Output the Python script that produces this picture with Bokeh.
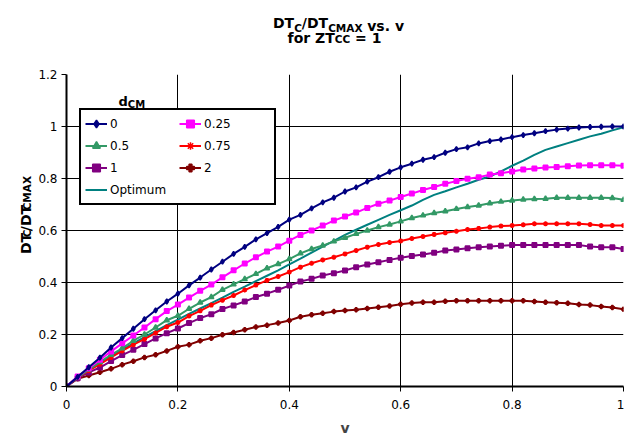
from bokeh.plotting import figure
from bokeh.models import Label, Legend, LegendItem, FixedTicker, Range1d
from bokeh.layouts import column, row
from bokeh.embed import file_html
from bokeh.resources import INLINE

# ---------------- data ----------------
v = [0.00, 0.02, 0.04, 0.06, 0.08, 0.10, 0.12, 0.14, 0.16, 0.18,
     0.20, 0.22, 0.24, 0.26, 0.28, 0.30, 0.32, 0.34, 0.36, 0.38,
     0.40, 0.42, 0.44, 0.46, 0.48, 0.50, 0.52, 0.54, 0.56, 0.58,
     0.60, 0.62, 0.64, 0.66, 0.68, 0.70, 0.72, 0.74, 0.76, 0.78,
     0.80, 0.82, 0.84, 0.86, 0.88, 0.90, 0.92, 0.94, 0.96, 0.98, 1.00]

d_0 = [0, 0.037, 0.074, 0.111, 0.150, 0.186, 0.222, 0.259, 0.293, 0.327,
       0.357, 0.389, 0.419, 0.450, 0.480, 0.510, 0.537, 0.566, 0.590, 0.614,
       0.642, 0.660, 0.685, 0.708, 0.726, 0.750, 0.766, 0.788, 0.805, 0.826,
       0.843, 0.857, 0.872, 0.882, 0.899, 0.913, 0.920, 0.935, 0.944, 0.950,
       0.959, 0.967, 0.974, 0.982, 0.988, 0.992, 0.996, 0.998, 0.999, 1.000, 1.000]

d_025 = [0, 0.038, 0.070, 0.103, 0.135, 0.166, 0.196, 0.227, 0.259, 0.290,
         0.315, 0.342, 0.368, 0.392, 0.420, 0.447, 0.473, 0.497, 0.519, 0.538,
         0.561, 0.583, 0.600, 0.619, 0.638, 0.654, 0.669, 0.687, 0.703, 0.715,
         0.729, 0.742, 0.756, 0.767, 0.780, 0.790, 0.799, 0.805, 0.815, 0.820,
         0.827, 0.835, 0.838, 0.842, 0.844, 0.847, 0.850, 0.851, 0.851, 0.851, 0.849]

d_05 = [0, 0.035, 0.065, 0.094, 0.122, 0.147, 0.176, 0.200, 0.227, 0.255,
        0.272, 0.299, 0.323, 0.344, 0.372, 0.393, 0.413, 0.433, 0.455, 0.471,
        0.490, 0.512, 0.529, 0.542, 0.558, 0.572, 0.587, 0.600, 0.613, 0.623,
        0.635, 0.648, 0.658, 0.667, 0.674, 0.683, 0.690, 0.696, 0.705, 0.711,
        0.715, 0.719, 0.721, 0.722, 0.726, 0.726, 0.726, 0.726, 0.726, 0.725, 0.718]

d_075 = [0, 0.035, 0.061, 0.086, 0.112, 0.137, 0.161, 0.182, 0.206, 0.230,
         0.246, 0.271, 0.291, 0.313, 0.332, 0.350, 0.371, 0.390, 0.408, 0.423,
         0.440, 0.459, 0.474, 0.487, 0.497, 0.510, 0.523, 0.536, 0.546, 0.554,
         0.560, 0.569, 0.577, 0.585, 0.591, 0.597, 0.604, 0.608, 0.613, 0.617,
         0.619, 0.622, 0.626, 0.626, 0.626, 0.626, 0.626, 0.623, 0.619, 0.619, 0.619]

d_1 = [0, 0.032, 0.054, 0.073, 0.098, 0.121, 0.141, 0.163, 0.185, 0.205,
       0.223, 0.244, 0.263, 0.278, 0.298, 0.312, 0.327, 0.344, 0.357, 0.372,
       0.388, 0.404, 0.414, 0.427, 0.436, 0.446, 0.459, 0.469, 0.478, 0.487,
       0.495, 0.502, 0.508, 0.514, 0.523, 0.527, 0.532, 0.536, 0.538, 0.541,
       0.544, 0.544, 0.544, 0.544, 0.544, 0.544, 0.544, 0.538, 0.536, 0.536, 0.529]

d_2 = [0, 0.030, 0.042, 0.055, 0.068, 0.084, 0.097, 0.112, 0.122, 0.137,
       0.153, 0.161, 0.176, 0.186, 0.199, 0.208, 0.218, 0.229, 0.236, 0.244,
       0.254, 0.268, 0.276, 0.282, 0.288, 0.292, 0.295, 0.300, 0.305, 0.310,
       0.316, 0.321, 0.324, 0.324, 0.328, 0.330, 0.330, 0.330, 0.330, 0.330,
       0.330, 0.330, 0.327, 0.324, 0.322, 0.320, 0.315, 0.313, 0.308, 0.304, 0.297]

optimum = [0, 0.036, 0.064, 0.090, 0.116, 0.142, 0.166, 0.190, 0.213, 0.236,
           0.257, 0.279, 0.300, 0.321, 0.342, 0.364, 0.384, 0.405, 0.426, 0.447,
           0.470, 0.492, 0.515, 0.538, 0.560, 0.583, 0.603, 0.622, 0.641, 0.660,
           0.678, 0.696, 0.718, 0.737, 0.751, 0.766, 0.780, 0.795, 0.808, 0.827,
           0.849, 0.869, 0.891, 0.910, 0.923, 0.936, 0.949, 0.962, 0.972, 0.985, 0.997]

x_ticks = [0, 0.2, 0.4, 0.6, 0.8, 1.0]
y_ticks = [0, 0.2, 0.4, 0.6, 0.8, 1.0, 1.2]

# ---------------- layout constants ----------------
W, H = 624, 440
TITLE_H = 46          # height of the title strip
YLAB_W = 34           # width of the y-label strip
FL, FT, FW, FH = 66, 74, 557, 312   # plot frame in page pixels
X0, X1, Y0, Y1 = 0.0, 1.0, 0.0, 1.2
FONT = "DejaVu Sans"

BOLD_W = {'D': 0.830, 'T': 0.682, 'C': 0.734, '/': 0.365, 'M': 0.995, 'A': 0.774,
          'X': 0.757, ' ': 0.348, 'v': 0.652, 's': 0.595, '.': 0.380, 'f': 0.435,
          'o': 0.687, 'r': 0.493, 'Z': 0.725, '=': 0.838, '1': 0.696, 'd': 0.716}

def twidth(t, size):
    return sum(BOLD_W.get(c, 0.65) for c in t) * size

def text_strip(w, h, x_off, y_off):
    """A figure whose data coordinates equal page pixels (y downward)."""
    f = figure(width=w, height=h, x_range=Range1d(x_off, x_off + w),
               y_range=Range1d(y_off + h, y_off), output_backend="svg",
               toolbar_location=None, x_axis_location=None, y_axis_location=None,
               min_border=0, min_border_left=0, min_border_right=0,
               min_border_top=0, min_border_bottom=0,
               background_fill_color="white", border_fill_color="white")
    f.outline_line_color = None
    f.xgrid.visible = False
    f.ygrid.visible = False
    return f

def put(f, px, py, t, s, angle=0):
    f.add_layout(Label(x=px, y=py, text=t, text_font=FONT, text_font_style="bold",
                       text_font_size=f"{s}px", text_color="black", text_align="left",
                       text_baseline="alphabetic", angle=angle, angle_units="deg"))

def split_lead(t, s):
    body = t.lstrip(" ")
    return body, twidth(" " * (len(t) - len(body)), s)

def chain_h(f, pieces, cx, base_y):
    total = sum(twidth(t, s) for t, s, sh in pieces)
    x = cx - total / 2
    for t, s, sh in pieces:
        body, lead = split_lead(t, s)
        put(f, x + lead, base_y + sh, body, s)
        x += twidth(t, s)

def chain_v(f, pieces, base_x, cy):
    total = sum(twidth(t, s) for t, s, sh in pieces)
    y = cy + total / 2
    for t, s, sh in pieces:
        body, lead = split_lead(t, s)
        put(f, base_x + sh, y - lead, body, s, 90)
        y -= twidth(t, s)

# ---------------- title strip ----------------
t_fig = text_strip(W, TITLE_H, 0, 0)
chain_h(t_fig, [("DT", 14, -3), ("C", 10.5, 2), ("/DT", 14, -3), ("CMAX", 10.5, 2),
                (" vs. v", 14, 0)], 338, 25)
chain_h(t_fig, [("for ZT", 14, 0), ("CC", 10.5, 1), (" = 1", 14, 0)], 334, 37)

# ---------------- y-label strip ----------------
y_fig = text_strip(YLAB_W, H - TITLE_H, 0, TITLE_H)
chain_v(y_fig, [("DT", 14, 0), ("C", 10.5, 1), ("/DT", 14, 0), ("CMAX", 10.5, 1)], 25.5, 228)

# ---------------- main chart ----------------
MW, MH = W - YLAB_W, H - TITLE_H
p = figure(width=MW, height=MH, x_range=(X0, X1), y_range=(Y0, Y1),
           output_backend="svg", toolbar_location=None,
           min_border_left=FL - YLAB_W, min_border_right=W - FL - FW,
           min_border_top=FT - TITLE_H, min_border_bottom=H - FT - FH,
           background_fill_color="white", border_fill_color="white")
p.outline_line_color = None

def dx(px):
    return X0 + (px - FL) / FW * (X1 - X0)

def dy(py):
    return Y0 + (FT + FH - py) / FH * (Y1 - Y0)

for ax, ticks in ((p.xaxis, x_ticks), (p.yaxis, y_ticks)):
    ax.ticker = FixedTicker(ticks=ticks)
    ax.minor_tick_line_color = None
    ax.major_tick_in = 0
    ax.major_tick_out = 5
    ax.major_tick_line_color = "black"
    ax.major_tick_line_width = 1
    ax.axis_line_color = "black"
    ax.axis_line_width = 2
    ax.major_label_text_font = FONT
    ax.major_label_text_font_size = "12px"
    ax.major_label_text_color = "black"
p.xaxis.major_label_standoff = 8
p.yaxis.major_label_standoff = 4
p.xaxis.major_label_overrides = {0: "0", 1.0: "1"}
p.yaxis.major_label_overrides = {0: "0", 1.0: "1"}
p.xaxis.axis_label = "v"
p.xaxis.axis_label_text_font = FONT
p.xaxis.axis_label_text_font_style = "bold"
p.xaxis.axis_label_text_font_size = "14px"
p.xaxis.axis_label_standoff = 8

p.xgrid.grid_line_color = "black"
p.ygrid.grid_line_color = "black"
p.xgrid.grid_line_width = 1
p.ygrid.grid_line_width = 1

series = [
    ("0", d_0, "#000080", "diamond", 5),
    ("0.25", d_025, "#FF00FF", "square", 4.5),
    ("0.5", d_05, "#339966", "triangle", 5),
    ("0.75", d_075, "#FF0000", "asterisk", 5),
    ("1", d_1, "#800080", "square", 4.5),
    ("2", d_2, "#800000", "plus", 4),
]

items = {}
opt_line = p.line(v, optimum, line_color="#008080", line_width=2)
items["Optimum"] = [opt_line]
for name, ys, col, mk, sz in reversed(series):
    ln = p.line(v, ys, line_color=col, line_width=2)
    sc = p.scatter(v, ys, marker=mk, size=sz, line_color=col, fill_color=col, line_width=1.5)
    items[name] = [ln, sc]

order = ["0", "0.5", "1", "Optimum", "0.25", "0.75", "2"]
legend = Legend(items=[LegendItem(label=k, renderers=items[k]) for k in order],
                location=(79 - FL, FT + FH - 205), nrows=4, orientation="vertical")
legend.label_text_font = FONT
legend.label_text_font_size = "12px"
legend.label_text_color = "black"
legend.glyph_width = 22
legend.glyph_height = 19
legend.label_height = 19
legend.label_width = 66
legend.label_standoff = 3
legend.spacing = 3
legend.padding = 4
legend.margin = 0
legend.border_line_color = "black"
legend.border_line_alpha = 1
legend.border_line_width = 2
legend.background_fill_color = "white"
legend.background_fill_alpha = 1
p.add_layout(legend, "center")

# legend title
p.add_layout(Label(x=dx(118), y=dy(101), text="d", text_font=FONT, text_font_style="bold",
                   text_font_size="13px", text_color="black", text_baseline="alphabetic"))
p.add_layout(Label(x=dx(118 + twidth("d", 13)), y=dy(104), text="CM", text_font=FONT,
                   text_font_style="bold", text_font_size="10px", text_color="black",
                   text_baseline="alphabetic"))

layout = column(t_fig, row(y_fig, p, spacing=0), spacing=0)
open("out.html", "w").write(file_html(layout, INLINE))
